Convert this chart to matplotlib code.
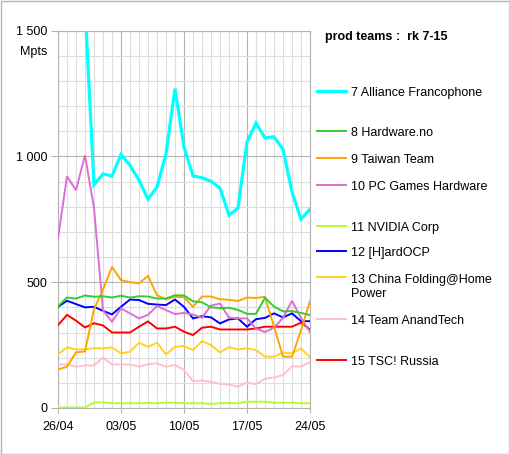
import numpy as np
import matplotlib.pyplot as plt
from matplotlib.lines import Line2D
from matplotlib.patches import Rectangle
from matplotlib.ticker import MultipleLocator

plt.rcParams['font.family'] = ['Liberation Sans', 'DejaVu Sans']

nan = np.nan
days = np.arange(29)  # 26/04 .. 24/05
date_ticks = [0, 7, 14, 21, 28]
date_labels = ['26/04', '03/05', '10/05', '17/05', '24/05']
y_ticks = [0, 500, 1000, 1500]
y_labels = ['0', '500', '1 000', '1 500']

alliance = [nan, nan, nan, 1600, 887, 930, 922, 1008, 964, 905, 830, 878, 1010, 1269, 1037,
            922, 915, 901, 874, 766, 795, 1057, 1132, 1073, 1078, 1028, 858, 750, 790]
hardware_no = [404, 439, 435, 447, 442, 444, 439, 446, 439, 444, 443, 435, 435, 448, 447,
               424, 420, 400, 397, 398, 390, 374, 374, 438, 403, 384, 385, 378, 369]
taiwan = [153, 164, 221, 225, 392, 470, 561, 508, 500, 495, 525, 448, 432, 442, 440,
          402, 443, 443, 432, 430, 425, 439, 437, 442, 323, 204, 204, 308, 425]
pcgh = [673, 921, 865, 1005, 795, 388, 343, 396, 376, 356, 370, 405, 389, 373, 378,
        371, 359, 407, 415, 359, 356, 356, 315, 302, 319, 358, 426, 358, 302]
nvidia = [2, 2, 2, 2, 22, 22, 19, 19, 19, 19, 20, 19, 21, 21, 19,
          19, 19, 16, 19, 20, 19, 25, 25, 25, 21, 21, 21, 19, 19]
hardocp = [402, 426, 413, 400, 402, 386, 372, 402, 431, 429, 414, 411, 409, 431, 402,
           356, 365, 360, 336, 352, 356, 323, 353, 358, 376, 360, 376, 345, 345]
china = [213, 241, 233, 233, 238, 237, 241, 217, 224, 259, 243, 259, 213, 243, 246,
         230, 266, 250, 221, 242, 233, 237, 230, 204, 204, 221, 217, 237, 201]
anandtech = [173, 173, 164, 169, 169, 200, 173, 173, 173, 164, 174, 177, 164, 171, 151,
             107, 109, 104, 96, 93, 85, 101, 95, 117, 121, 131, 165, 165, 182]
tsc = [329, 370, 347, 320, 337, 328, 300, 300, 300, 323, 344, 316, 316, 323, 303,
       290, 319, 323, 312, 312, 312, 312, 316, 323, 323, 323, 323, 339, 312]

names = ['7 Alliance Francophone', '8 Hardware.no', '9 Taiwan Team', '10 PC Games Hardware',
         '11 NVIDIA Corp', '12 [H]ardOCP', '13 China Folding@Home\nPower',
         '14 Team AnandTech', '15 TSC! Russia']
series = [alliance, hardware_no, taiwan, pcgh, nvidia, hardocp, china, anandtech, tsc]
colors = ['#00ffff', '#33cc33', '#ffa500', '#da70d6', '#adff2f', '#0000ff', '#ffd320',
          '#ffc0cb', '#ff0000']
widths = [2.3, 1.4, 1.4, 1.4, 1.4, 1.4, 1.4, 1.4, 1.4]
legend_y = [93, 133, 160, 187, 228, 253, 287, 321, 362]  # pixel rows of legend text
line_y = [91, 131, 158, 185, 226, 251, 277, 319, 360]

W, H = 510, 454
fig = plt.figure(figsize=(W / 100, H / 100), dpi=100)
ax = fig.add_axes([58 / W, 1 - 408 / H, 252 / W, 377.5 / H])

# draw bottom series first so upper ones sit on top like the original
for s, c, lw in zip(series[::-1], colors[::-1], widths[::-1]):
    ax.plot(days, s, color=c, lw=lw, solid_joinstyle='miter', zorder=3)

ax.set_xlim(0, 28)
ax.set_ylim(0, 1500)
ax.set_xticks(date_ticks)
ax.set_xticklabels(date_labels)
ax.set_yticks(y_ticks)
ax.set_yticklabels(y_labels)
ax.xaxis.set_minor_locator(MultipleLocator(1))
ax.yaxis.set_minor_locator(MultipleLocator(100))
ax.grid(which='minor', color='#dddddd', lw=0.8, zorder=0)
ax.grid(which='major', color='#b3b3b3', lw=0.8, zorder=1)
ax.tick_params(which='minor', length=0)
ax.tick_params(axis='y', which='major', length=5, width=0.8, color='#b3b3b3', pad=2.5,
               labelsize=9)
ax.tick_params(axis='x', which='major', length=3.5, width=0.8, color='#b3b3b3', pad=6,
               labelsize=9)
for sp in ax.spines.values():
    sp.set_color('#b3b3b3')
    sp.set_linewidth(0.8)
ax.set_axisbelow(True)

fig.text(47 / W, 1 - 52 / H, 'Mpts', ha='right', va='center', fontsize=9)
fig.text(325 / W, 1 - 37 / H, 'prod teams :  rk 7-15', ha='left', va='center',
         fontsize=9, fontweight='bold')

for name, c, lw, ty, ly in zip(names, colors, widths, legend_y, line_y):
    fig.add_artist(Line2D([317 / W, 346 / W], [1 - ly / H, 1 - ly / H], color=c, lw=lw))
    fig.text(351 / W, 1 - ty / H, name, ha='left', va='center', fontsize=9,
             linespacing=1.3)

fig.add_artist(Rectangle((0.5 / W, 0.5 / H), 1 - 1.5 / W, 1 - 1.5 / H,
                         transform=fig.transFigure, fill=False, ec='#b3b3b3', lw=1))

plt.savefig('out.png', dpi=100)
plt.close()
